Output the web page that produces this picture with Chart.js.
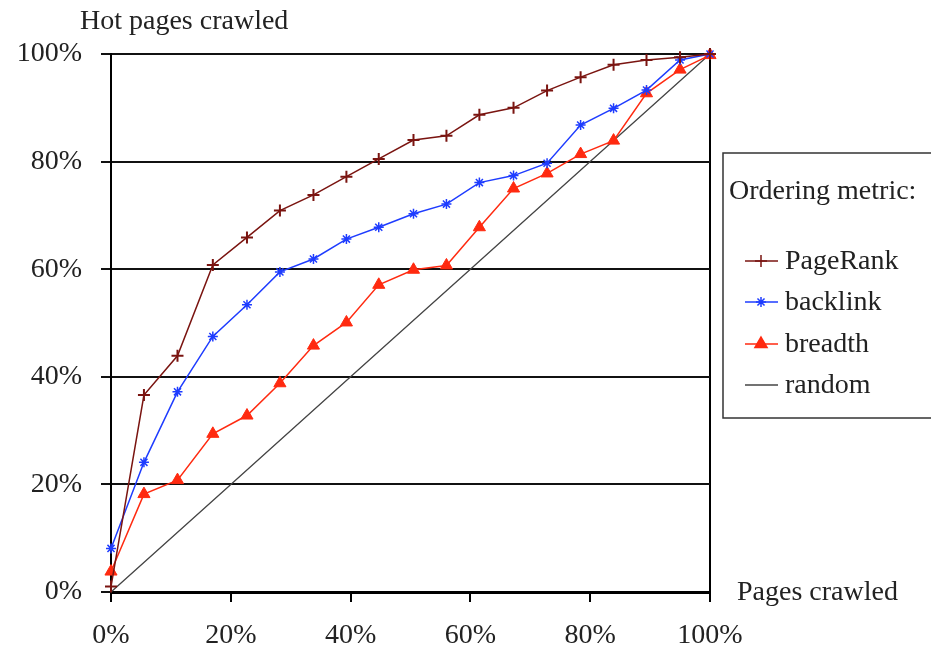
<html>
  <head>
    <title>Hot pages crawled</title>
    <style>
      body { margin: 0; background: #fff; }
      #wrap { width: 931px; height: 651px; }
    </style>
  </head>
  <body>
    <div id="wrap"><canvas id="myChart" width="931" height="651"></canvas></div>
    <script src="https://cdn.jsdelivr.net/npm/chart.js@4/dist/chart.umd.min.js"></script>
    <script>
      // fraction of pages crawled (%) at each sample
      const crawled = [0, 5.5, 11.1, 17, 22.7, 28.2, 33.8, 39.3, 44.7, 50.5, 56, 61.5, 67.2, 72.8, 78.4, 83.9, 89.4, 95, 100];
      const pageRank = [1, 36.6, 43.9, 60.8, 65.9, 70.9, 73.8, 77.2, 80.5, 84.0, 84.8, 88.7, 90.0, 93.2, 95.7, 98.0, 98.9, 99.4, 100];
      const backlink = [8.1, 24.1, 37.2, 47.5, 53.4, 59.5, 61.9, 65.6, 67.8, 70.3, 72.1, 76.1, 77.4, 79.7, 86.8, 89.9, 93.3, 98.9, 100];
      const breadth = [3.8, 18.2, 20.8, 29.4, 32.8, 38.8, 45.8, 50.1, 57.1, 59.9, 60.7, 67.8, 75.0, 77.8, 81.4, 83.9, 92.7, 97.1, 99.8];
      const randomX = [0, 20, 40, 60, 80, 100];
      const randomY = [0, 20, 40, 60, 80, 100];
      const tickValues = [0, 20, 40, 60, 80, 100];

      const serif = '"Liberation Serif", "DejaVu Serif", serif';

      function pts(xs, ys) {
        return ys.map((y, i) => ({ x: xs[i], y: y }));
      }

      // axis titles + boxed legend on the right
      const decor = {
        id: 'decor',
        afterDraw(chart) {
          const ctx = chart.ctx;
          ctx.save();
          ctx.fillStyle = '#222';
          ctx.font = '28px ' + serif;
          ctx.textBaseline = 'middle';
          ctx.textAlign = 'left';
          ctx.fillText('Hot pages crawled', 80, 22);
          ctx.fillText('Pages crawled', 737, 593);

          ctx.strokeStyle = '#333';
          ctx.lineWidth = 1.5;
          ctx.strokeRect(723, 153, 215, 265);
          ctx.fillText('Ordering metric:', 729, 192);

          const rows = [261, 302, 344, 385];
          chart.data.datasets.forEach((ds, i) => {
            const y = rows[i];
            ctx.strokeStyle = ds.borderColor;
            ctx.lineWidth = 1.5;
            ctx.beginPath();
            ctx.moveTo(745, y);
            ctx.lineTo(778, y);
            ctx.stroke();
            if (ds.pointRadius > 0) {
              ctx.fillStyle = ds.pointBackgroundColor;
              ctx.strokeStyle = ds.borderColor;
              Chart.helpers.drawPoint(ctx, {
                pointStyle: ds.pointStyle,
                radius: ds.pointRadius,
                rotation: 0,
                borderWidth: ds.pointBorderWidth
              }, 761, y);
            }
            ctx.fillStyle = '#222';
            ctx.fillText(ds.label, 785, y + 1);
          });
          ctx.restore();
        }
      };

      new Chart(document.getElementById('myChart'), {
        type: 'line',
        data: {
          datasets: [
            {
              label: 'PageRank',
              data: pts(crawled, pageRank),
              borderColor: '#7a1410',
              pointBackgroundColor: '#7a1410',
              borderWidth: 1.5,
              pointStyle: 'cross',
              pointRadius: 6,
              pointBorderWidth: 2,
              clip: false
            },
            {
              label: 'backlink',
              data: pts(crawled, backlink),
              borderColor: '#1e3cff',
              pointBackgroundColor: '#1e3cff',
              borderWidth: 1.5,
              pointStyle: 'star',
              pointRadius: 5,
              pointBorderWidth: 1.5,
              clip: false
            },
            {
              label: 'breadth',
              data: pts(crawled, breadth),
              borderColor: '#ff2a10',
              pointBackgroundColor: '#ff2a10',
              borderWidth: 1.5,
              pointStyle: 'triangle',
              pointRadius: 7,
              pointBorderWidth: 1,
              clip: false
            },
            {
              label: 'random',
              data: pts(randomX, randomY),
              borderColor: '#444',
              pointBackgroundColor: '#444',
              borderWidth: 1.3,
              pointRadius: 0,
              pointBorderWidth: 0,
              clip: false
            }
          ]
        },
        options: {
          responsive: false,
          animation: false,
          events: [],
          layout: { padding: { left: 0, top: 54, right: 221, bottom: 0 } },
          plugins: { legend: { display: false }, tooltip: { enabled: false } },
          elements: { line: { tension: 0 } },
          scales: {
            x: {
              type: 'linear',
              min: 0,
              max: 100,
              afterBuildTicks: s => { s.ticks = tickValues.map(v => ({ value: v })); },
              afterFit: s => { s.height = 59; },
              border: { color: '#000', width: 3 },
              grid: {
                drawOnChartArea: true,
                color: c => (c.tick && c.tick.value === 100 ? '#000' : 'rgba(0,0,0,0)'),
                lineWidth: 2,
                tickColor: '#000',
                tickWidth: 2,
                tickLength: 10
              },
              ticks: {
                padding: 17,
                maxRotation: 0,
                color: '#222',
                font: { family: serif, size: 28 },
                callback: v => v + '%'
              }
            },
            y: {
              min: 0,
              max: 100,
              afterBuildTicks: s => { s.ticks = tickValues.map(v => ({ value: v })); },
              afterFit: s => { s.width = 111; },
              border: { color: '#000', width: 2 },
              grid: {
                color: '#111',
                lineWidth: 2,
                tickColor: '#111',
                tickLength: 10
              },
              ticks: {
                padding: 19,
                color: '#222',
                font: { family: serif, size: 28 },
                callback: v => v + '%'
              }
            }
          }
        },
        plugins: [decor]
      });
    </script>
  </body>
</html>
